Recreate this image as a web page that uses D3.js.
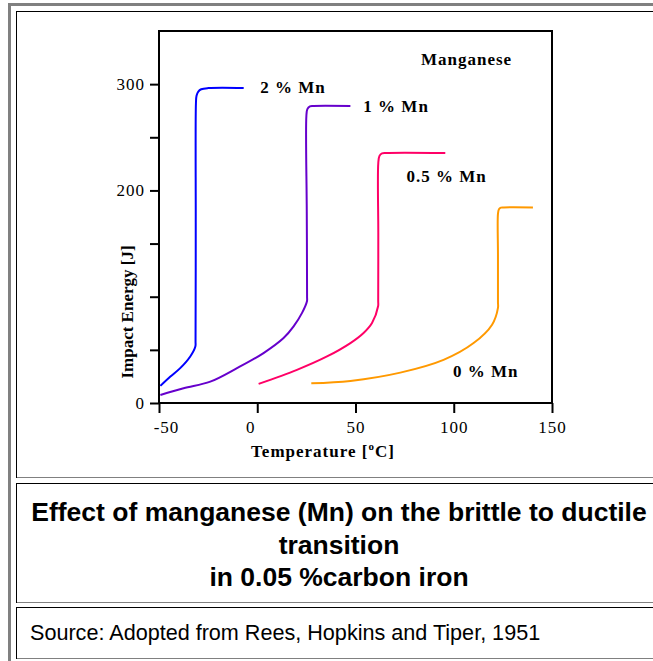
<!DOCTYPE html>
<html lang="en">
<head>
<meta charset="utf-8">
<title>Effect of manganese on the brittle to ductile transition</title>
<style>
body { margin: 0; background: #fff; }

.axis text {
  font-family: "Liberation Serif", "Times New Roman", serif;
  font-size: 17px;
  letter-spacing: 1px;
  fill: #000;
}
.axis line { stroke: #000; stroke-width: 2px; }
.axis path { display: none; }

.note {
  font-family: "Liberation Serif", "Times New Roman", serif;
  font-weight: bold;
  font-size: 17px;
  letter-spacing: 1px;
  fill: #000;
}
.caption { font-family: "Liberation Sans", Arial, sans-serif; fill: #000; }
</style>
</head>
<body>

<div id="chart"></div>

<script src="https://d3js.org/d3.v7.min.js"></script>

<script>
  // ---- data ----
  var seriesNames = ["2 % Mn", "1 % Mn", "0.5 % Mn", "0 % Mn"];
  var seriesColors = ["#0000ff", "#6600cc", "#ff0066", "#ff9900"];

  var tempMn2   = [-49.3, -44.2, -39.2, -34.1, -31.5, -31.4, -31.3, -31.2, -30.9, -30.0, -28.5, -25.0, -6.9];
  var energyMn2 = [16.1, 24.9, 32.8, 43.8, 53.2, 58, 170, 282, 289, 293, 295.2, 296.3, 296.4];

  var tempMn1   = [-49.3, -37.5, -23.9, -10.3, 3.2, 13.4, 18.5, 22.8, 25.3, 25.35, 25.2, 25.0, 25.5, 26.8, 28.5, 47.4];
  var energyMn1 = [7.6, 13.9, 20.1, 32.8, 47.0, 61.1, 72.1, 84.8, 95.7, 100, 180, 270, 276.5, 279, 279.4, 279.4];

  var tempMn05   = [0.7, 20.2, 35.5, 47.4, 54.1, 58.4, 61.5, 61.55, 61.6, 61.6, 62.2, 63.5, 65.5, 95.7];
  var energyMn05 = [18.0, 31.2, 43.8, 56.4, 65.9, 75.3, 91.0, 96, 160, 226, 232.5, 234.8, 235.3, 235.3];

  var tempMn0   = [27.5, 47.4, 72.8, 94.8, 110.1, 119.5, 122.5, 122.5, 122.5, 122.5, 123.0, 124.0, 125.5, 140.3];
  var energyMn0 = [18.6, 20.8, 28.6, 40.6, 56.4, 73.7, 89.5, 95, 140, 178, 182.3, 183.8, 184.0, 184.0];

  // where the series names sit, in data units
  var labelTemp   = [1.5, 54, 76, 99.6];
  var labelEnergy = [291.5, 273.6, 207.5, 24.5];

  var xTicks = [-50, 0, 50, 100, 150];
  var yTicks = [0, 50, 100, 150, 200, 250, 300];
  var yTickLabels = [0, 200, 300];

  var captionLines = [
    "Effect of manganese (Mn) on the brittle to ductile",
    "transition",
    "in 0.05 %carbon iron"
  ];
  var sourceText = "Source: Adopted from Rees, Hopkins and Tiper, 1951";

  var series = [
    { temp: tempMn2,  energy: energyMn2 },
    { temp: tempMn1,  energy: energyMn1 },
    { temp: tempMn05, energy: energyMn05 },
    { temp: tempMn0,  energy: energyMn0 }
  ];

  // ---- page ----
  var svg = d3.select("#chart")
    .append("svg")
    .attr("width", 653)
    .attr("height", 661);

  // table frame
  svg.append("rect").attr("x", 8).attr("y", 3).attr("width", 3).attr("height", 661).attr("fill", "#808080");
  svg.append("rect").attr("x", 8).attr("y", 3).attr("width", 645).attr("height", 3).attr("fill", "#808080");

  var cells = [[11, 477], [483, 602], [607, 658]];
  cells.forEach(function(c) {
    svg.append("line").attr("x1", 16).attr("x2", 653).attr("y1", c[0] + 0.5).attr("y2", c[0] + 0.5)
      .attr("stroke", "#000");
    svg.append("line").attr("x1", 16.5).attr("x2", 16.5).attr("y1", c[0]).attr("y2", c[1] + 1)
      .attr("stroke", "#000");
    svg.append("line").attr("x1", 17).attr("x2", 653).attr("y1", c[1] + 0.5).attr("y2", c[1] + 0.5)
      .attr("stroke", "#808080");
  });

  // ---- chart ----
  var x = d3.scaleLinear().domain([-50, 150]).range([159, 552]);
  var y = d3.scaleLinear().domain([0, 350]).range([403, 31]);

  var g = svg.append("g");

  var xAxis = g.append("g")
    .attr("class", "axis")
    .attr("transform", "translate(0,403)")
    .call(d3.axisBottom(x).tickValues(xTicks).tickSize(10).tickPadding(8)
      .tickFormat(function(d) { return String(d); }));

  // the first two labels sit a little off their ticks in the original
  xAxis.selectAll("text")
    .attr("dx", function(d) { return d === -50 ? 7 : (d === 0 ? -7 : 0); });

  g.append("g")
    .attr("class", "axis")
    .attr("transform", "translate(159,0)")
    .call(d3.axisLeft(y).tickValues(yTicks).tickSize(9).tickPadding(5)
      .tickFormat(function(d) { return yTickLabels.indexOf(d) >= 0 ? String(d) : ""; }));

  // plot box
  g.append("rect")
    .attr("x", x(-50))
    .attr("y", y(350))
    .attr("width", x(150) - x(-50))
    .attr("height", y(0) - y(350))
    .attr("fill", "none")
    .attr("stroke", "#000")
    .attr("stroke-width", 2);

  var line = d3.line()
    .x(function(d) { return x(d[0]); })
    .y(function(d) { return y(d[1]); })
    .curve(d3.curveCatmullRom.alpha(0.5));

  g.selectAll(".curve")
    .data(series)
    .enter()
    .append("path")
    .attr("class", "curve")
    .attr("fill", "none")
    .attr("stroke", function(d, i) { return seriesColors[i]; })
    .attr("stroke-width", 2)
    .attr("stroke-linejoin", "round")
    .attr("d", function(d) { return line(d3.zip(d.temp, d.energy)); });

  g.selectAll(".lbl")
    .data(seriesNames)
    .enter()
    .append("text")
    .attr("class", "note lbl")
    .attr("x", function(d, i) { return x(labelTemp[i]); })
    .attr("y", function(d, i) { return y(labelEnergy[i]); })
    .text(function(d) { return d; });

  g.append("text")
    .attr("class", "note")
    .attr("x", 421)
    .attr("y", 65)
    .text("Manganese");

  // axis titles
  var xt = g.append("text")
    .attr("class", "note")
    .attr("x", 323)
    .attr("y", 457)
    .attr("text-anchor", "middle");
  xt.append("tspan").text("Temperature [");
  xt.append("tspan").attr("font-size", "11px").attr("dy", -7).text("o");
  xt.append("tspan").attr("dy", 7).text("C]");

  g.append("text")
    .attr("class", "note")
    .attr("transform", "translate(133,312) rotate(-90)")
    .attr("text-anchor", "middle")
    .style("letter-spacing", "0px")
    .text("Impact Energy [J]");

  // ---- caption cells ----
  svg.selectAll(".cap")
    .data(captionLines)
    .enter()
    .append("text")
    .attr("class", "caption cap")
    .attr("x", 339)
    .attr("y", function(d, i) { return 521 + i * 32.5; })
    .attr("text-anchor", "middle")
    .attr("font-size", "26.5px")
    .attr("font-weight", "bold")
    .text(function(d) { return d; });

  svg.append("text")
    .attr("class", "caption")
    .attr("x", 30)
    .attr("y", 640)
    .attr("font-size", "21.6px")
    .text(sourceText);
</script>
</body>
</html>
